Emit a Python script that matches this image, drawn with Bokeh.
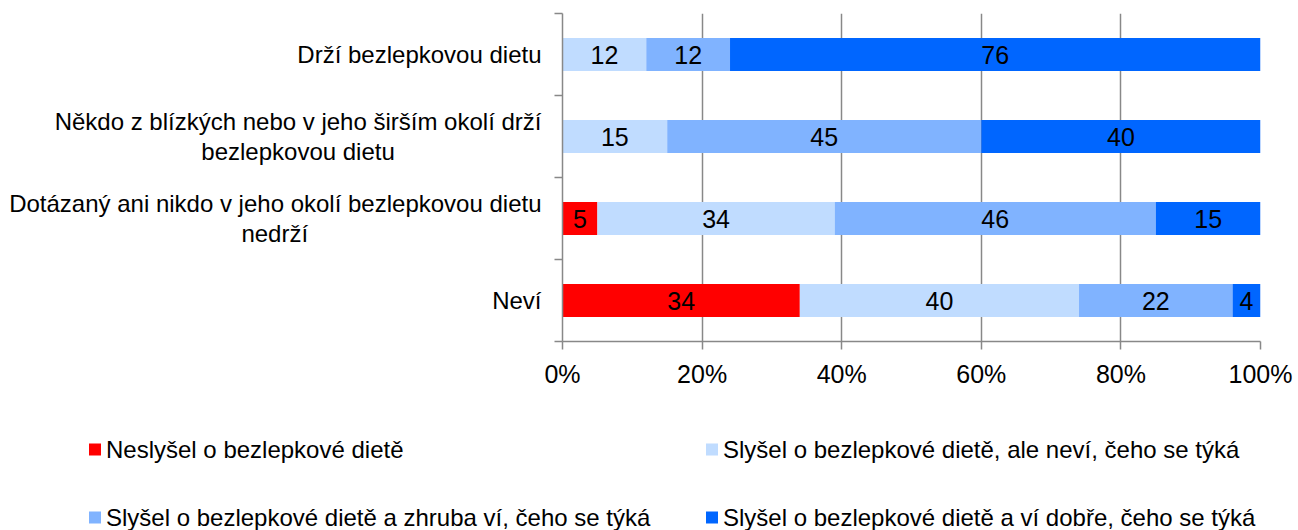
from bokeh.plotting import figure
from bokeh.models import Range1d, FixedTicker, PrintfTickFormatter, ColumnDataSource
from bokeh.layouts import column
from bokeh.core.properties import value
from bokeh.embed import file_html
from bokeh.resources import INLINE

categories = [
    "Drží bezlepkovou dietu",
    "Někdo z blízkých nebo v jeho širším okolí drží\nbezlepkovou dietu",
    "Dotázaný ani nikdo v jeho okolí bezlepkovou dietu\nnedrží",
    "Neví",
]
series_names = [
    "Neslyšel o bezlepkové dietě",
    "Slyšel o bezlepkové dietě, ale neví, čeho se týká",
    "Slyšel o bezlepkové dietě a zhruba ví, čeho se týká",
    "Slyšel o bezlepkové dietě a ví dobře, čeho se týká",
]
neslysel = [0, 0, 5, 34]
nevi_ceho = [12, 15, 34, 40]
zhruba = [12, 45, 46, 22]
dobre = [76, 40, 15, 4]
x_ticks = [0, 20, 40, 60, 80, 100]

series = [neslysel, nevi_ceho, zhruba, dobre]
colors = ["#FF0000", "#C0DCFF", "#80B3FF", "#0066FF"]
FONT = "Liberation Sans"
GRID = "#888888"
NBSP = "\u00a0"
# right padding (in no-break spaces) so that wrapped second lines sit centred under the first
line_pad = [0, 22, 35, 0]

n = len(categories)
ys = [n - i - 0.5 for i in range(n)]

p = figure(width=1298, height=390, x_range=Range1d(0, 100), y_range=Range1d(0, n),
           output_backend="svg", toolbar_location=None,
           min_border_left=562, min_border_right=38, min_border_top=13, min_border_bottom=49)
p.outline_line_color = None
p.ygrid.visible = False
p.xgrid.ticker = FixedTicker(ticks=x_ticks)
p.xgrid.grid_line_color = GRID
p.xgrid.grid_line_width = 1.5
p.frame_align = False

left = [0.0] * n
for vals, col in zip(series, colors):
    right = [l + v for l, v in zip(left, vals)]
    src = ColumnDataSource(dict(y=ys, left=left, right=right,
                                mid=[(l + r) / 2 for l, r in zip(left, right)],
                                lab=[str(v) if v > 0 else "" for v in vals]))
    p.hbar(y="y", left="left", right="right", height=0.4, source=src,
           fill_color=col, line_color=None)
    p.text(x="mid", y="y", text="lab", source=src, text_align="center",
           text_baseline="middle", text_font=value(FONT), text_font_size="25px",
           text_color="black")
    left = right

xa = p.xaxis[0]
xa.ticker = FixedTicker(ticks=x_ticks)
xa.formatter = PrintfTickFormatter(format="%d%%")
xa.axis_line_color = GRID
xa.axis_line_width = 1.5
xa.major_tick_line_color = GRID
xa.major_tick_line_width = 1.5
xa.major_tick_out = 8
xa.major_tick_in = 0
xa.minor_tick_line_color = None
xa.major_label_text_font = FONT
xa.major_label_text_font_size = "25px"
xa.major_label_text_color = "black"
xa.major_label_standoff = 10


def padded(label, pad):
    lines = label.split("\n")
    if len(lines) > 1:
        lines[1] = lines[1] + NBSP * pad
    return "\n".join(lines)


ya = p.yaxis[0]
ya.ticker = FixedTicker(ticks=ys, minor_ticks=list(range(n + 1)))
ya.major_label_overrides = {y: padded(c, k) for y, c, k in zip(ys, categories, line_pad)}
ya.axis_line_color = GRID
ya.axis_line_width = 1.5
ya.major_tick_line_color = None
ya.major_tick_out = 8
ya.major_tick_in = 0
ya.minor_tick_line_color = GRID
ya.minor_tick_line_width = 1.5
ya.minor_tick_out = 8
ya.minor_tick_in = 0
ya.major_label_text_font = FONT
ya.major_label_text_font_size = "24px"
ya.major_label_text_color = "black"
ya.major_label_text_line_height = 1.1
ya.major_label_standoff = 13

# legend panel below the chart
lg = figure(width=1298, height=140, x_range=Range1d(0, 1298), y_range=Range1d(140, 0),
            output_backend="svg", toolbar_location=None,
            x_axis_type=None, y_axis_type=None, min_border=0)
lg.frame_align = False
lg.outline_line_color = None
lg.xgrid.visible = False
lg.ygrid.visible = False
col_x = [94.5, 711.5]
row_y = [59, 127]
lx, ly, ltx = [], [], []
for i, name in enumerate(series_names):
    lx.append(col_x[i % 2])
    ly.append(row_y[i // 2])
    ltx.append(col_x[i % 2] + 11)
lsrc = ColumnDataSource(dict(x=lx, y=ly, tx=ltx, name=series_names, color=colors))
lg.scatter(x="x", y="y", marker="square", size=12, fill_color="color", line_color=None, source=lsrc)
lg.text(x="tx", y="y", text="name", source=lsrc, text_align="left", text_baseline="middle",
        text_font=value(FONT), text_font_size="24px", text_color="black")

layout = column(p, lg, spacing=0)
open("out.html", "w").write(file_html(layout, INLINE))
